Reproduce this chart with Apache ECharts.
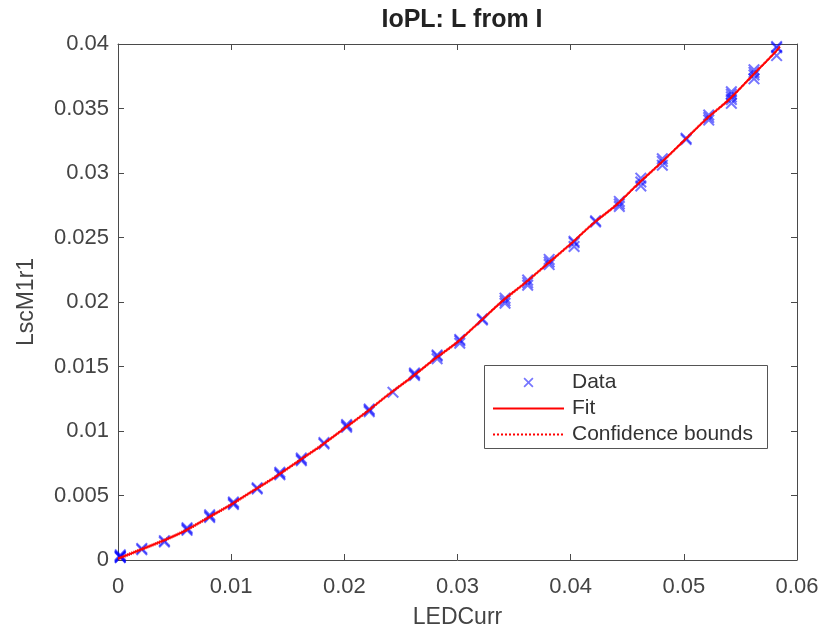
<!DOCTYPE html>
<html>
<head>
<meta charset="utf-8">
<script src="https://cdn.jsdelivr.net/npm/echarts@6/dist/echarts.min.js"></script>
<style>
html,body{margin:0;padding:0;background:#fff;}
#chart{width:823px;height:634px;}
</style>
</head>
<body>
<div id="chart"></div>
<script>
// Measured data: LEDCurr positions and replicate LscM1r1 values at each
const dataX = [0.0002, 0.0021, 0.0041, 0.0061, 0.0081, 0.0102, 0.0123, 0.0143, 0.0162, 0.0182,
               0.0202, 0.0222, 0.0243, 0.0262, 0.0282, 0.0302, 0.0322, 0.0342, 0.0362, 0.0381,
               0.0403, 0.0422, 0.0443, 0.0462, 0.0481, 0.0502, 0.0522, 0.0542, 0.0562, 0.0582];
const dataY = [
  [0.0002, 0.0003, 0.0004, 0.0003, 0.0002],
  [0.0008, 0.0009],
  [0.0014, 0.0015],
  [0.0023, 0.0024, 0.0025],
  [0.0033, 0.0034, 0.0035],
  [0.0043, 0.0044, 0.0045],
  [0.0055, 0.0056],
  [0.0066, 0.0067, 0.0068],
  [0.0077, 0.0078, 0.0079],
  [0.0090, 0.0091],
  [0.0103, 0.0104, 0.0105],
  [0.0115, 0.0116, 0.0117],
  [0.0130],
  [0.0143, 0.0144, 0.0145],
  [0.0156, 0.0158, 0.0159],
  [0.0168, 0.0170, 0.0171],
  [0.0186, 0.0187],
  [0.0199, 0.0201, 0.0203],
  [0.0213, 0.0215, 0.0217],
  [0.0229, 0.0231, 0.0233],
  [0.0243, 0.0246, 0.0247],
  [0.0262, 0.0263],
  [0.0274, 0.0276, 0.0278],
  [0.0290, 0.0293, 0.0296],
  [0.0306, 0.0309, 0.0311],
  [0.0326, 0.0327],
  [0.0341, 0.0343, 0.0345],
  [0.0354, 0.0357, 0.0359, 0.0361, 0.0363],
  [0.0373, 0.0376, 0.0378, 0.0380],
  [0.0391, 0.0397, 0.0398]
];
// Fit curve
const fitX = [0, 0.002, 0.004, 0.006, 0.008, 0.010, 0.012, 0.014, 0.016, 0.018,
              0.020, 0.022, 0.024, 0.026, 0.028, 0.030, 0.032, 0.034, 0.036, 0.038,
              0.040, 0.042, 0.044, 0.046, 0.048, 0.050, 0.052, 0.054, 0.056, 0.058, 0.0585];
const fitY = [0.0001, 0.0008, 0.0015, 0.0023, 0.0033, 0.0043, 0.0054, 0.0065, 0.0077, 0.0089,
              0.0102, 0.0115, 0.0129, 0.0142, 0.0156, 0.0169, 0.0185, 0.0201, 0.0215, 0.0230,
              0.0245, 0.0261, 0.0275, 0.0292, 0.0308, 0.0325, 0.0342, 0.0357, 0.0375, 0.0393, 0.0398];
// Confidence bounds (hug the fit)
const loY = [0.0000, 0.0007, 0.0014, 0.0022, 0.0032, 0.0042, 0.0053, 0.0064, 0.0076, 0.0088,
             0.0101, 0.0114, 0.0128, 0.0141, 0.0155, 0.0168, 0.0184, 0.0200, 0.0214, 0.0229,
             0.0244, 0.0260, 0.0274, 0.0291, 0.0307, 0.0324, 0.0341, 0.0356, 0.0374, 0.0392, 0.0397];
const hiY = [0.0002, 0.0009, 0.0016, 0.0024, 0.0034, 0.0044, 0.0055, 0.0066, 0.0078, 0.0090,
             0.0103, 0.0116, 0.0130, 0.0143, 0.0157, 0.0170, 0.0186, 0.0202, 0.0216, 0.0231,
             0.0246, 0.0262, 0.0276, 0.0293, 0.0309, 0.0326, 0.0343, 0.0358, 0.0376, 0.0394, 0.0399];

const FONT = "'Liberation Sans', Arial, sans-serif";
const AX = '#4a4a4a';
const LBL = '#444444';

const pts = [];
dataX.forEach((x, i) => dataY[i].forEach(y => pts.push([x, y])));
const fitPts = fitX.map((x, i) => [x, fitY[i]]);
const loPts = fitX.map((x, i) => [x, loY[i]]);
const hiPts = fitX.map((x, i) => [x, hiY[i]]);

const XSYM = 'path://M0,1.2L1.2,0L5,3.8L8.8,0L10,1.2L6.2,5L10,8.8L8.8,10L5,6.2L1.2,10L0,8.8L3.8,5Z';
const fmt = v => String(+v.toFixed(4));

const baseAxis = {
  type: 'value',
  axisLine: {show: true, onZero: false, lineStyle: {color: AX, width: 1}},
  axisTick: {show: true, inside: true, length: 6, lineStyle: {color: AX}},
  splitLine: {show: false},
  axisLabel: {show: false}
};

const noSym = {color: 'rgba(0,0,0,0)', borderColor: 'rgba(0,0,0,0)', borderWidth: 0};

const chart = echarts.init(document.getElementById('chart'), null, {renderer: 'canvas'});
chart.setOption({
  animation: false,
  backgroundColor: '#fff',
  title: {
    text: 'IoPL: L from I',
    left: 457, top: 3, textAlign: 'center',
    textStyle: {fontFamily: FONT, fontSize: 25, fontWeight: 'bold', color: '#222'}
  },
  grid: {left: 118, right: 26, top: 44, bottom: 72, containLabel: false},
  xAxis: [
    Object.assign({}, baseAxis, {
      min: 0, max: 0.06, interval: 0.01, position: 'bottom',
      axisLabel: {show: true, formatter: fmt, margin: 16, color: LBL, fontFamily: FONT, fontSize: 22},
      name: 'LEDCurr', nameLocation: 'middle', nameGap: 46,
      nameTextStyle: {color: LBL, fontFamily: FONT, fontSize: 23}
    }),
    Object.assign({}, baseAxis, {min: 0, max: 0.06, interval: 0.01, position: 'top'})
  ],
  yAxis: [
    Object.assign({}, baseAxis, {
      min: 0, max: 0.04, interval: 0.005, position: 'left',
      axisLabel: {show: true, formatter: fmt, margin: 9, color: LBL, fontFamily: FONT, fontSize: 22},
      name: 'LscM1r1', nameLocation: 'middle', nameGap: 80,
      nameTextStyle: {color: LBL, fontFamily: FONT, fontSize: 23}
    }),
    Object.assign({}, baseAxis, {min: 0, max: 0.04, interval: 0.005, position: 'right'})
  ],
  legend: {
    orient: 'vertical',
    left: 492, top: 372,
    padding: 0,
    itemWidth: 71, itemHeight: 10, itemGap: 5,
    symbolKeepAspect: true,
    textStyle: {fontFamily: FONT, fontSize: 21, color: '#333', padding: [0, 0, 0, 3]},
    data: [
      {name: 'Data'},
      {name: 'Fit', itemStyle: noSym},
      {name: 'Confidence bounds', itemStyle: noSym}
    ]
  },
  graphic: [{
    type: 'rect', left: 484, top: 365, z: 50,
    shape: {width: 283, height: 83},
    style: {fill: 'rgba(0,0,0,0)', stroke: '#555', lineWidth: 1}
  }, {
    type: 'rect', left: 485, top: 366, z: -1, silent: true,
    shape: {width: 281, height: 81},
    style: {fill: '#fff'}
  }],
  series: [
    {
      name: 'Data', type: 'scatter', data: pts,
      symbol: XSYM, symbolSize: 12,
      itemStyle: {color: 'rgba(0,0,255,0.68)'},
      z: 2
    },
    {
      name: 'Fit', type: 'line', data: fitPts, showSymbol: false, symbol: 'none',
      smooth: 0.3,
      lineStyle: {color: '#ff0000', width: 1.8},
      itemStyle: {color: '#ff0000'},
      z: 4
    },
    {
      name: 'Confidence bounds', type: 'line', data: loPts, showSymbol: false, symbol: 'none',
      smooth: 0.3,
      lineStyle: {color: '#ff0000', width: 1, type: 'dotted'},
      itemStyle: {color: '#ff0000'},
      z: 3
    },
    {
      name: 'Confidence bounds', type: 'line', data: hiPts, showSymbol: false, symbol: 'none',
      smooth: 0.3,
      lineStyle: {color: '#ff0000', width: 1, type: 'dotted'},
      itemStyle: {color: '#ff0000'},
      z: 3
    }
  ]
});
</script>
</body>
</html>
